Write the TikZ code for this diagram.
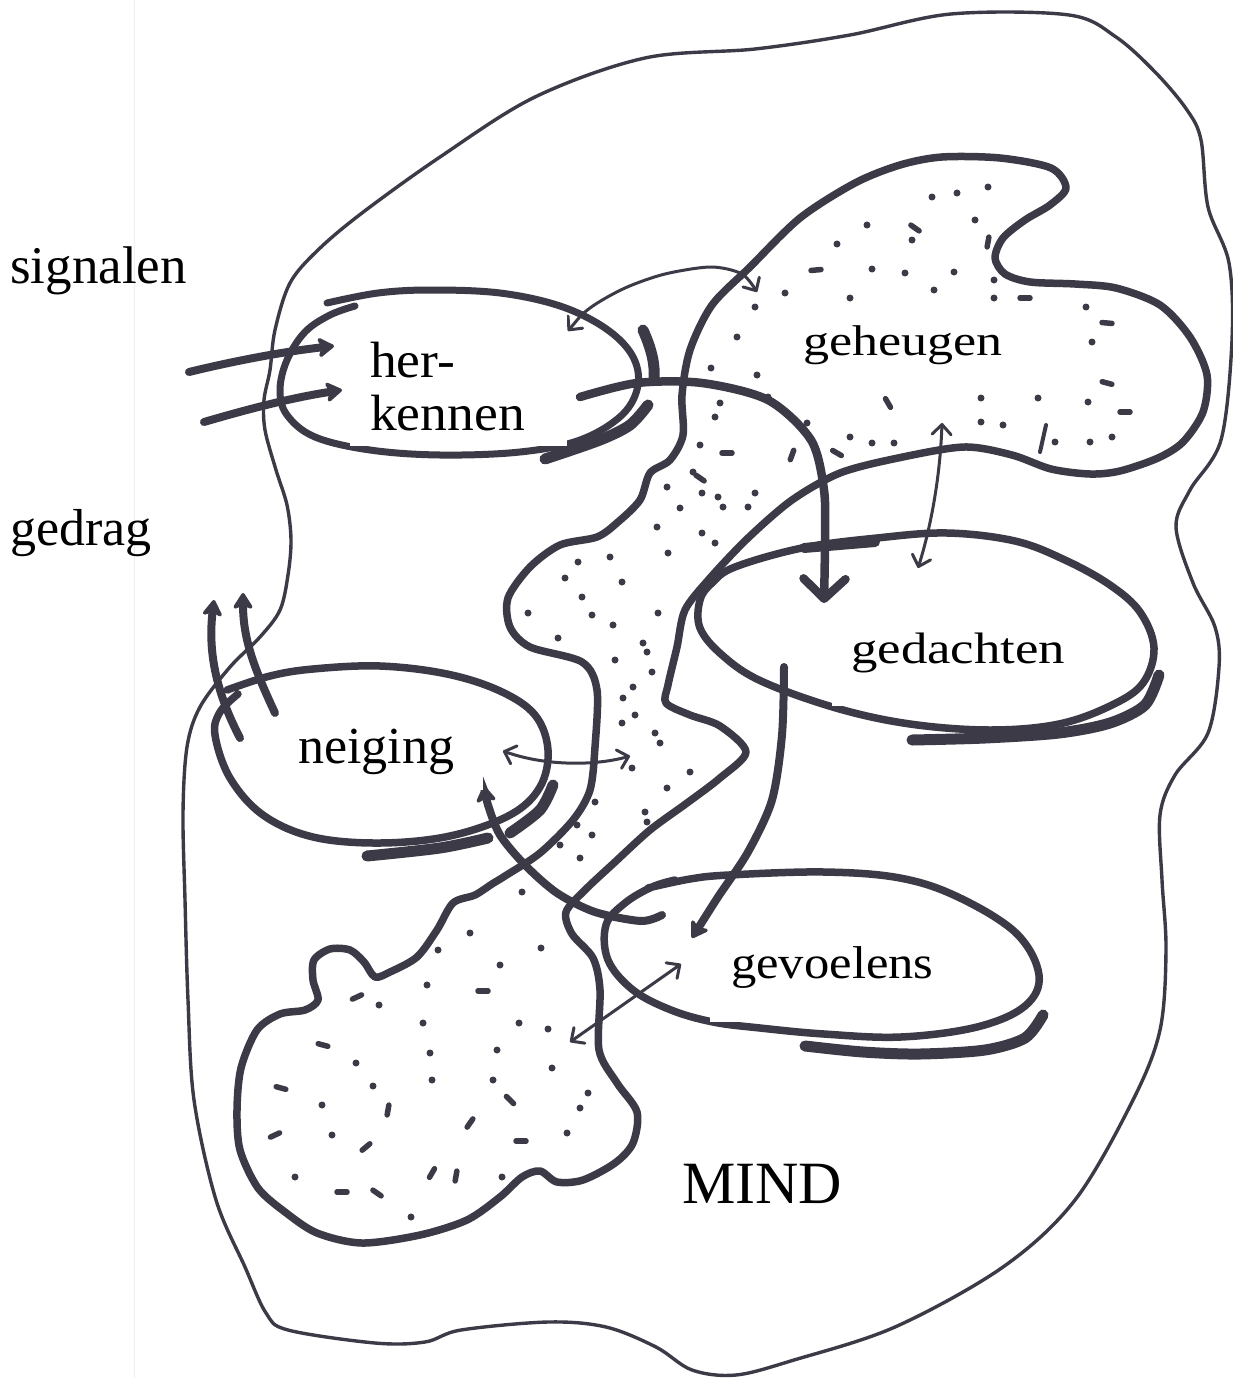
\documentclass[tikz,border=0pt]{standalone}
\usepackage{fontspec}
\setmainfont{Liberation Serif}
\usepackage{graphicx}
\usetikzlibrary{arrows.meta}
\definecolor{ink}{RGB}{60,58,70}
\definecolor{paperedge}{RGB}{238,238,242}
\begin{document}
\begin{tikzpicture}[x=1pt,y=-1pt,
  outerline/.style={draw=ink, line width=3.4pt, line join=round, line cap=round},
  blobline/.style={draw=ink, line width=7.5pt, line join=round, line cap=round},
  accent/.style={draw=ink, line width=11pt, line cap=round},
  thinarrow/.style={draw=ink, line width=3pt, line cap=round,
    {Straight Barb[length=10pt,width=19pt,round]}-{Straight Barb[length=10pt,width=19pt,round]}},
  thickarrow/.style={draw=ink, line width=8pt, line cap=round,
    -{Stealth[length=19pt,width=24pt,round,inset=5pt]}},
  bigarrow/.style={draw=ink, line width=8.5pt, line cap=round,
    -{Straight Barb[length=20pt,width=42pt,round]}},
  lbl/.style={inner sep=0pt, anchor=base west, text=black},
  mask/.style={fill=white, draw=none}]
\useasboundingbox (0,0) rectangle (1233,1378);
\fill[white] (0,0) rectangle (1233,1378);
\draw[paperedge, line width=1pt] (134,0) -- (134,1378);

% outer boundary (MIND)
\draw[outerline] plot[smooth cycle, tension=0.55] coordinates {
 (1069,15) (1116,37) (1156,73) (1187,110) (1201,140) (1208,207) (1229,263) (1232,340)
 (1221,440) (1190,490) (1176,527) (1193,583) (1215,627) (1219,667) (1208,733) (1175,775)
 (1160,815) (1162,880) (1166,950) (1160,1030) (1133,1100) (1075,1200) (1003,1267)
 (895,1327) (794,1360) (736,1375) (692,1370) (656,1347) (606,1327) (548,1322) (461,1330)
 (425,1342) (375,1343) (288,1330) (266,1313) (245,1267) (216,1200) (194,1100) (188,1000)
 (185,900) (183,813) (187,747) (200,707) (230,667) (260,637) (280,610) (288,575) (291,540)
 (287,505) (276,470) (265,430) (264,400) (270,370) (275,330) (290,283) (318,250) (362,213)
 (440,157) (535,97) (645,58) (755,49) (850,35) (951,14)};

% dotted region: geheugen + channel + lower blob
\draw[blobline] plot[smooth cycle, tension=0.5] coordinates {
 (750,267) (800,218) (855,183) (900,165) (942,157) (1000,158) (1051,168) (1066,188)
 (1050,205) (1025,220) (1003,238) (995,258) (1005,274) (1030,282) (1075,284) (1116,288)
 (1160,305) (1190,337) (1207,375) (1203,412) (1183,442) (1158,458) (1120,471) (1090,474)
 (1051,469) (1012,455) (964,447) (898,458) (840,473) (792,500) (748,538) (710,578)
 (685,610) (677,647) (668,685) (666,703) (690,715) (720,726) (746,752) (720,778)
 (687,803) (650,830) (615,862) (585,890) (566,912) (572,934) (593,958) (600,990)
 (599,1050) (617,1083) (637,1112) (633,1143) (615,1163) (583,1180) (557,1182) (540,1171)
 (522,1177) (500,1197) (467,1220) (420,1235) (362,1243) (317,1233) (285,1212) (258,1188)
 (240,1150) (237,1110) (241,1068) (257,1030) (280,1014) (305,1010) (318,1000) (313,980)
 (314,960) (330,949) (350,950) (364,962) (375,977) (390,972) (417,957) (437,930)
 (453,903) (475,895) (492,884) (505,876) (540,853) (573,820) (590,790) (595,747)
 (597,690) (582,662) (530,647) (510,627) (508,598) (530,567) (560,545) (597,537)
 (618,522) (640,500) (650,473) (670,460) (683,435) (682,395) (690,350) (712,305)};

% dots
\foreach \x/\y in {988/187, 957/193, 932/197, 975/220, 867/225, 912/240, 837/244, 872/269,
 905/273, 954/272, 994/280, 934/290, 994/298, 850/298, 785/293, 755/307, 1086/307, 1092/342,
 737/337, 711/368, 757/375, 768/397, 981/398, 1038/398, 1088/402, 720/403, 715/417, 807/423,
 850/437, 872/443, 894/443, 981/422, 1003/425, 1055/442, 1090/442, 1112/437, 700/445,
 693/472, 667/487, 702/493, 718/497, 723/507, 748/507, 680/508, 755/493, 657/527, 702/533,
 715/543, 668/553, 610/557, 578/562, 565/578, 622/582, 582/597, 658/613, 528/613, 592/615,
 613/625, 558/638, 643/643, 647/652, 615/660, 652/672, 633/687, 623/698, 635/715, 622/723,
 655/733, 660/743, 632/768, 690/772, 667/788, 595/802, 645/812, 647/822, 577/825, 592/835,
 560/845, 580/858, 522/892,
 470/933, 438/950, 541/948, 500/965, 379/1005, 427/985, 423/1023, 519/1023, 548/1029,
 430/1053, 497/1050, 356/1063, 552/1068, 432/1080, 493/1080, 373/1086, 588/1093, 322/1105,
 580/1108, 332/1135, 567/1133, 295/1177, 502/1177, 411/1217}
 \fill[ink] (\x,\y) circle (3.5pt);
\foreach \x/\y/\a in {816/270/5, 1025/298/0, 1107/323/-5, 1107/383/-15, 1125/412/0,
 988/242/80, 915/228/-35, 792/455/70, 837/453/-30, 888/403/-60, 727/453/0, 700/478/-35,
 357/997/25, 483/991/0, 323/1045/-15, 281/1088/-15, 388/1110/80, 275/1135/25, 366/1147/40,
 521/1141/0, 456/1176/80, 342/1192/0, 377/1193/-35, 432/1173/60, 510/1100/-45, 470/1123/55}
 \draw[ink, line width=5.5pt, line cap=round] (\x,\y) ++(\a:-5pt) -- ++(\a:10pt);
\draw[ink, line width=4pt, line cap=round] (1046,425) -- (1040,452);

% ellipses
\draw[blobline, line width=7pt] plot[smooth, tension=0.6] coordinates {
 (327,303) (378,293) (431,290) (500,293) (560,306) (605,328) (632,355) (638,385) (622,415)
 (580,440) (520,452) (440,455) (370,450) (315,437) (287,415) (280,390) (287,360) (305,332)
 (330,315) (355,306)};
\draw[blobline] plot[smooth cycle, tension=0.6] coordinates {
 (735,567) (802,548) (877,538) (947,533) (1015,541) (1065,560) (1110,585) (1140,612)
 (1154,648) (1143,683) (1112,705) (1059,724) (990,730) (910,724) (836,708) (761,681)
 (722,655) (700,628) (700,600) (712,583)};
\draw[blobline] plot[smooth, tension=0.6] coordinates {
 (227,690) (270,676) (313,669) (380,666) (447,674) (500,691) (535,715) (548,750) (540,787)
 (510,815) (450,836) (380,843) (313,837) (263,815) (230,778) (215,735) (220,712) (238,694)};
\draw[blobline] plot[smooth, tension=0.6] coordinates {
 (648,888) (690,879) (729,875) (824,872) (900,878) (958,897) (1016,933) (1039,975)
 (1025,1006) (977,1027) (901,1037) (824,1034) (760,1028) (713,1022) (671,1010) (633,990)
 (608,960) (606,925) (625,903) (652,887) (675,880)};

% accent strokes
\draw[accent] (643,330) .. controls (652,350) and (655,365) .. (654,378);
\draw[accent] plot[smooth] coordinates {(648,405) (630,425) (600,440) (545,459)};
\draw[accent] plot[smooth] coordinates {(553,785) (540,810) (510,833)};
\draw[accent] plot[smooth] coordinates {(488,838) (440,848) (367,856)};
\draw[accent] plot[smooth] coordinates {(1159,675) (1145,705) (1110,723) (1059,733) (985,738) (912,740)};
\draw[accent] plot[smooth] coordinates {(1043,1015) (1025,1038) (985,1050) (920,1054) (863,1052) (805,1046)};
\draw[accent, line width=10pt] (804,548) -- (875,542);

% thin double arrows
\draw[thinarrow] plot[smooth] coordinates {(568,331) (590,308) (625,288) (665,274) (711,267) (742,274) (757,292)};
\draw[thinarrow] (942,423) .. controls (940,480) and (930,530) .. (918,568);
\draw[thinarrow] (503,751) .. controls (545,766) and (595,766) .. (630,756);
\draw[thinarrow] (681,964) -- (570,1042);

% thick arrows
\draw[thickarrow] (189,372) .. controls (230,362) and (280,352) .. (334,346);
\draw[thickarrow] (204,422) .. controls (245,410) and (290,398) .. (342,390);
\draw[thickarrow] (240,738) .. controls (215,690) and (208,650) .. (214,600);
\draw[thickarrow] (275,713) .. controls (255,670) and (243,640) .. (243,593);
\draw[bigarrow] plot[smooth] coordinates {(580,397) (637,383) (702,383) (768,400) (811,440) (824,490) (825,540) (824,603)};
\draw[thickarrow] plot[smooth] coordinates {(784,667) (782,735) (772,800) (748,852) (718,897) (692,938)};
\draw[thickarrow] plot[smooth] coordinates {(662,915) (641,921) (595,912) (557,893) (525,865) (500,835) (488,805) (484,786)};

% white label patches
\fill[mask] (350,316) rectangle (567,446);
\fill[mask] (832,622) rectangle (1080,706);
\fill[mask] (710,925) rectangle (960,1022);
\fill[mask] (290,718) rectangle (483,790);

% labels
\node[lbl, font=\fontsize{53}{60}\selectfont] (signalen) at (10,283) {signalen};
\node[lbl, font=\fontsize{52}{60}\selectfont] (gedrag) at (10,545) {gedrag};
\node[lbl, font=\fontsize{51}{56}\selectfont] (her) at (370,377) {\scalebox{1.05}[1]{her-}};
\node[lbl, font=\fontsize{51}{56}\selectfont] (kennen) at (370,430) {\scalebox{1.05}[1]{kennen}};
\node[lbl, font=\fontsize{43}{48}\selectfont] (geheugen) at (803,355) {\scalebox{1.21}[1]{geheugen}};
\node[lbl, font=\fontsize{44}{50}\selectfont] (gedachten) at (851,663) {\scalebox{1.2}[1]{gedachten}};
\node[lbl, font=\fontsize{52}{60}\selectfont] (neiging) at (298,763) {neiging};
\node[lbl, font=\fontsize{46}{52}\selectfont] (gevoelens) at (731,978) {\scalebox{1.1}[1]{gevoelens}};
\node[lbl, font=\fontsize{60}{66}\selectfont] (mind) at (682,1203) {MIND};
\end{tikzpicture}
\end{document}
